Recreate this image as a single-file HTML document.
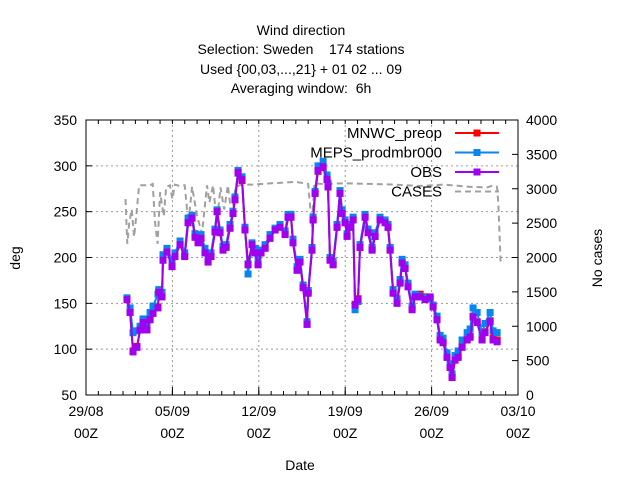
<!DOCTYPE html>
<html><head><meta charset="utf-8"><style>
body{margin:0;background:#fff;}
svg{display:block;font-family:"Liberation Sans",sans-serif;}
text{white-space:pre;}
</style></head><body>
<svg id="chart" width="640" height="480" viewBox="0 0 640 480" xml:space="preserve">
<g font-size="14" text-anchor="middle" fill="#000">
<text x="301" y="35">Wind direction</text>
<text x="301" y="54">Selection: Sweden    174 stations</text>
<text x="301" y="74">Used {00,03,...,21} + 01 02 ... 09</text>
<text x="301" y="93">Averaging window:  6h</text>
</g>
<g id="grid"></g>
<g id="axes"></g>
<g id="series"></g>
<rect x="86" y="120" width="432" height="275" fill="none" stroke="#000" stroke-width="1"/>
<text x="20" y="258" font-size="14" text-anchor="middle" transform="rotate(-90 20 258)">deg</text>
<text x="602" y="258" font-size="14" text-anchor="middle" transform="rotate(-90 602 258)">No cases</text>
<text x="300" y="470" font-size="14" text-anchor="middle">Date</text>
<g id="legend" font-size="14"></g>
</svg>
<script>
const times=[3.32,3.57,3.81,4.13,4.38,4.62,4.94,5.19,5.43,5.83,5.9,6.16,6.24,6.56,6.97,7.21,7.62,8.0,8.27,8.59,8.83,9.08,9.32,9.64,9.89,10.13,10.45,10.62,10.86,11.1,11.35,11.67,11.91,12.07,12.32,12.64,12.88,13.13,13.45,13.7,13.94,14.18,14.51,14.91,15.32,15.72,16.13,16.37,16.61,16.77,17.1,17.34,17.59,17.91,18.0,18.31,18.4,18.56,18.8,19.21,19.53,19.61,19.77,20.02,20.34,20.58,20.75,20.99,21.15,21.39,21.64,21.8,22.04,22.2,22.61,22.85,23.18,23.42,23.82,24.23,24.47,24.64,24.88,25.2,25.45,25.61,25.85,26.09,26.42,26.66,27.07,27.47,27.88,28.12,28.44,28.69,28.93,29.25,29.5,29.66,29.9,30.15,30.47,30.88,31.12,31.36,31.69,32.09,32.33,32.74,32.98,33.31];
const obs=[154,140,97,102,121,129,121,132,139,145,162,157,197,206,190,201,214,201,238,243,222,216,221,205,195,201,228,250,227,208,211,232,248,263,293,285,230,192,214,205,192,205,210,221,230,233,225,244,244,216,186,195,167,127,161,208,241,270,295,299,285,277,197,192,233,270,248,238,223,233,241,148,154,211,244,227,208,223,241,238,233,208,161,150,172,194,188,168,143,157,157,154,157,146,132,110,107,91,80,69,88,91,102,110,113,135,129,110,118,130,110,108];
const meps=[156,145,118,120,125,133,128,140,147,160,165,162,203,210,197,205,218,205,243,246,226,222,225,210,200,205,231,252,230,212,214,236,250,266,295,288,233,182,216,210,199,208,214,225,232,236,229,247,247,220,190,198,170,130,164,211,244,272,300,305,290,281,200,196,236,273,252,241,226,236,244,143,152,214,247,231,211,227,244,241,236,211,165,155,176,198,192,172,147,160,158,156,155,148,136,115,112,96,84,73,93,98,110,118,122,145,140,118,128,140,120,118];
const mnwc=[154,141,98,103,121,130,122,133,140,146,163,158,198,207,191,202,214,202,238,243,223,217,221,206,196,202,228,250,228,209,212,232,248,263,292,284,231,193,214,206,193,205,211,221,230,233,226,244,244,217,187,196,168,128,162,209,241,270,294,298,285,277,198,193,233,270,248,238,224,233,241,149,155,211,244,228,209,223,241,238,233,209,162,151,173,195,189,170,145,159,160,157,155,148,134,112,108,92,81,70,89,92,103,111,114,136,130,112,119,131,112,110];
const casesT=[3.2,3.35,3.5,3.7,3.9,4.1,4.3,5.2,5.4,5.6,5.8,6.0,6.3,6.5,6.8,7.0,7.2,7.6,8.0,8.3,8.6,9.0,9.4,9.8,10.0,10.3,10.6,10.9,11.2,11.5,11.8,12.1,12.4,12.8,13.5,15,17,18.0,18.3,18.5,19,21,23,25,27,29,31,32.5,33.0,33.3,33.4,33.6];
const casesV=[2850,2200,2500,2700,2300,2650,3050,3050,3070,2500,2200,2950,2600,3030,3050,2850,3060,3040,3050,2500,3030,2600,2350,3050,2800,3050,2500,3020,2700,3050,2600,3000,3050,3060,3060,3080,3100,3070,2450,3080,3070,3080,3070,3060,3040,3060,3030,3020,3050,3030,2800,1900];
const yTicks=[50,100,150,200,250,300,350];
const y2Ticks=[0,500,1000,1500,2000,2500,3000,3500,4000];
const xTickDays=[0,7,14,21,28,35];
const xTickLabels=["29/08","05/09","12/09","19/09","26/09","03/10"];

const L=86,R=518,T=120,B=395,NS="http://www.w3.org/2000/svg";
const xS=d=>L+d*(R-L)/35;
const yS=v=>B-(v-50)*(B-T)/300;
const y2S=c=>B-c*(B-T)/4000;
function mk(tag,attrs,parent){const e=document.createElementNS(NS,tag);for(const k in attrs)e.setAttribute(k,attrs[k]);parent.appendChild(e);return e;}
const grid=document.getElementById('grid'),axes=document.getElementById('axes'),ser=document.getElementById('series'),leg=document.getElementById('legend');
yTicks.forEach(v=>{const y=yS(v);
 if(v>50&&v<350){const g=mk('line',{x1:L,x2:R,y1:y,y2:y,stroke:'#999','stroke-dasharray':'2,3'},grid);
 
 }
 mk('line',{x1:L,x2:L+6,y1:y,y2:y,stroke:'#000'},axes);
 const t=mk('text',{x:L-9,y:y+5,'font-size':14,'text-anchor':'end'},axes);t.textContent=v;
 
 });
y2Ticks.forEach(c=>{const y=y2S(c);
 mk('line',{x1:R-6,x2:R,y1:y,y2:y,stroke:'#000'},axes);
 const t=mk('text',{x:R+8,y:y+5,'font-size':14},axes);t.textContent=c;
 
 });
for(let d=1;d<35;d++){const x=xS(d);mk('line',{x1:x,x2:x,y1:B,y2:B-4,stroke:'#000'},axes);mk('line',{x1:x,x2:x,y1:T,y2:T+4,stroke:'#000'},axes);}
xTickDays.forEach((d,i)=>{const x=xS(d);
 if(d>0&&d<35){const g=mk('line',{x1:x,x2:x,y1:T,y2:B,stroke:'#999','stroke-dasharray':'2,3'},grid);
 
 }
 mk('line',{x1:x,x2:x,y1:B,y2:B-8,stroke:'#000'},axes);
 const t=mk('text',{x:x,y:416,'font-size':14,'text-anchor':'middle'},axes);t.textContent=xTickLabels[i];
 
 
 const t2=mk('text',{x:x,y:438,'font-size':14,'text-anchor':'middle'},axes);t2.textContent="00Z";
 
 });
const cp=mk('path',{d:casesT.map((d,i)=>(i?'L':'M')+xS(d).toFixed(1)+','+y2S(casesV[i]).toFixed(1)).join(''),fill:'none',stroke:'#a0a0a0','stroke-width':2,'stroke-dasharray':'6,4'},ser);


function series(vals,color,name){
 const g=mk('g',{},ser);
 
 
 mk('path',{d:times.map((d,i)=>(i?'L':'M')+xS(d).toFixed(1)+','+yS(vals[i]).toFixed(1)).join(''),fill:'none',stroke:color,'stroke-width':2},g);
 times.forEach((d,i)=>{const p=mk('rect',{x:xS(d)-3.5,y:yS(vals[i])-3.5,width:7,height:7,fill:color},g);
 
 });}
series(mnwc,'#ff0000','mnwc-series');
series(meps,'#0a84ee','meps-series');
series(obs,'#a000ee','obs-series');
const legItems=[["MNWC_preop","#ff0000",false],["MEPS_prodmbr000","#0a84ee",false],["OBS","#a000ee",false],["CASES","#a0a0a0",true]];
legItems.forEach((it,i)=>{const y=133+i*19.5;
 const t=mk('text',{x:442,y:y+5,'text-anchor':'end','font-size':15},leg);t.textContent=it[0];
 
 
 if(it[2]){mk('line',{x1:455,x2:499,y1:y,y2:y,stroke:it[1],'stroke-width':2,'stroke-dasharray':'6,4'},leg);}
 else{mk('line',{x1:455,x2:499,y1:y,y2:y,stroke:it[1],'stroke-width':2},leg);mk('rect',{x:473.5,y:y-3.5,width:7,height:7,fill:it[1]},leg);}});
</script>
</body></html>
